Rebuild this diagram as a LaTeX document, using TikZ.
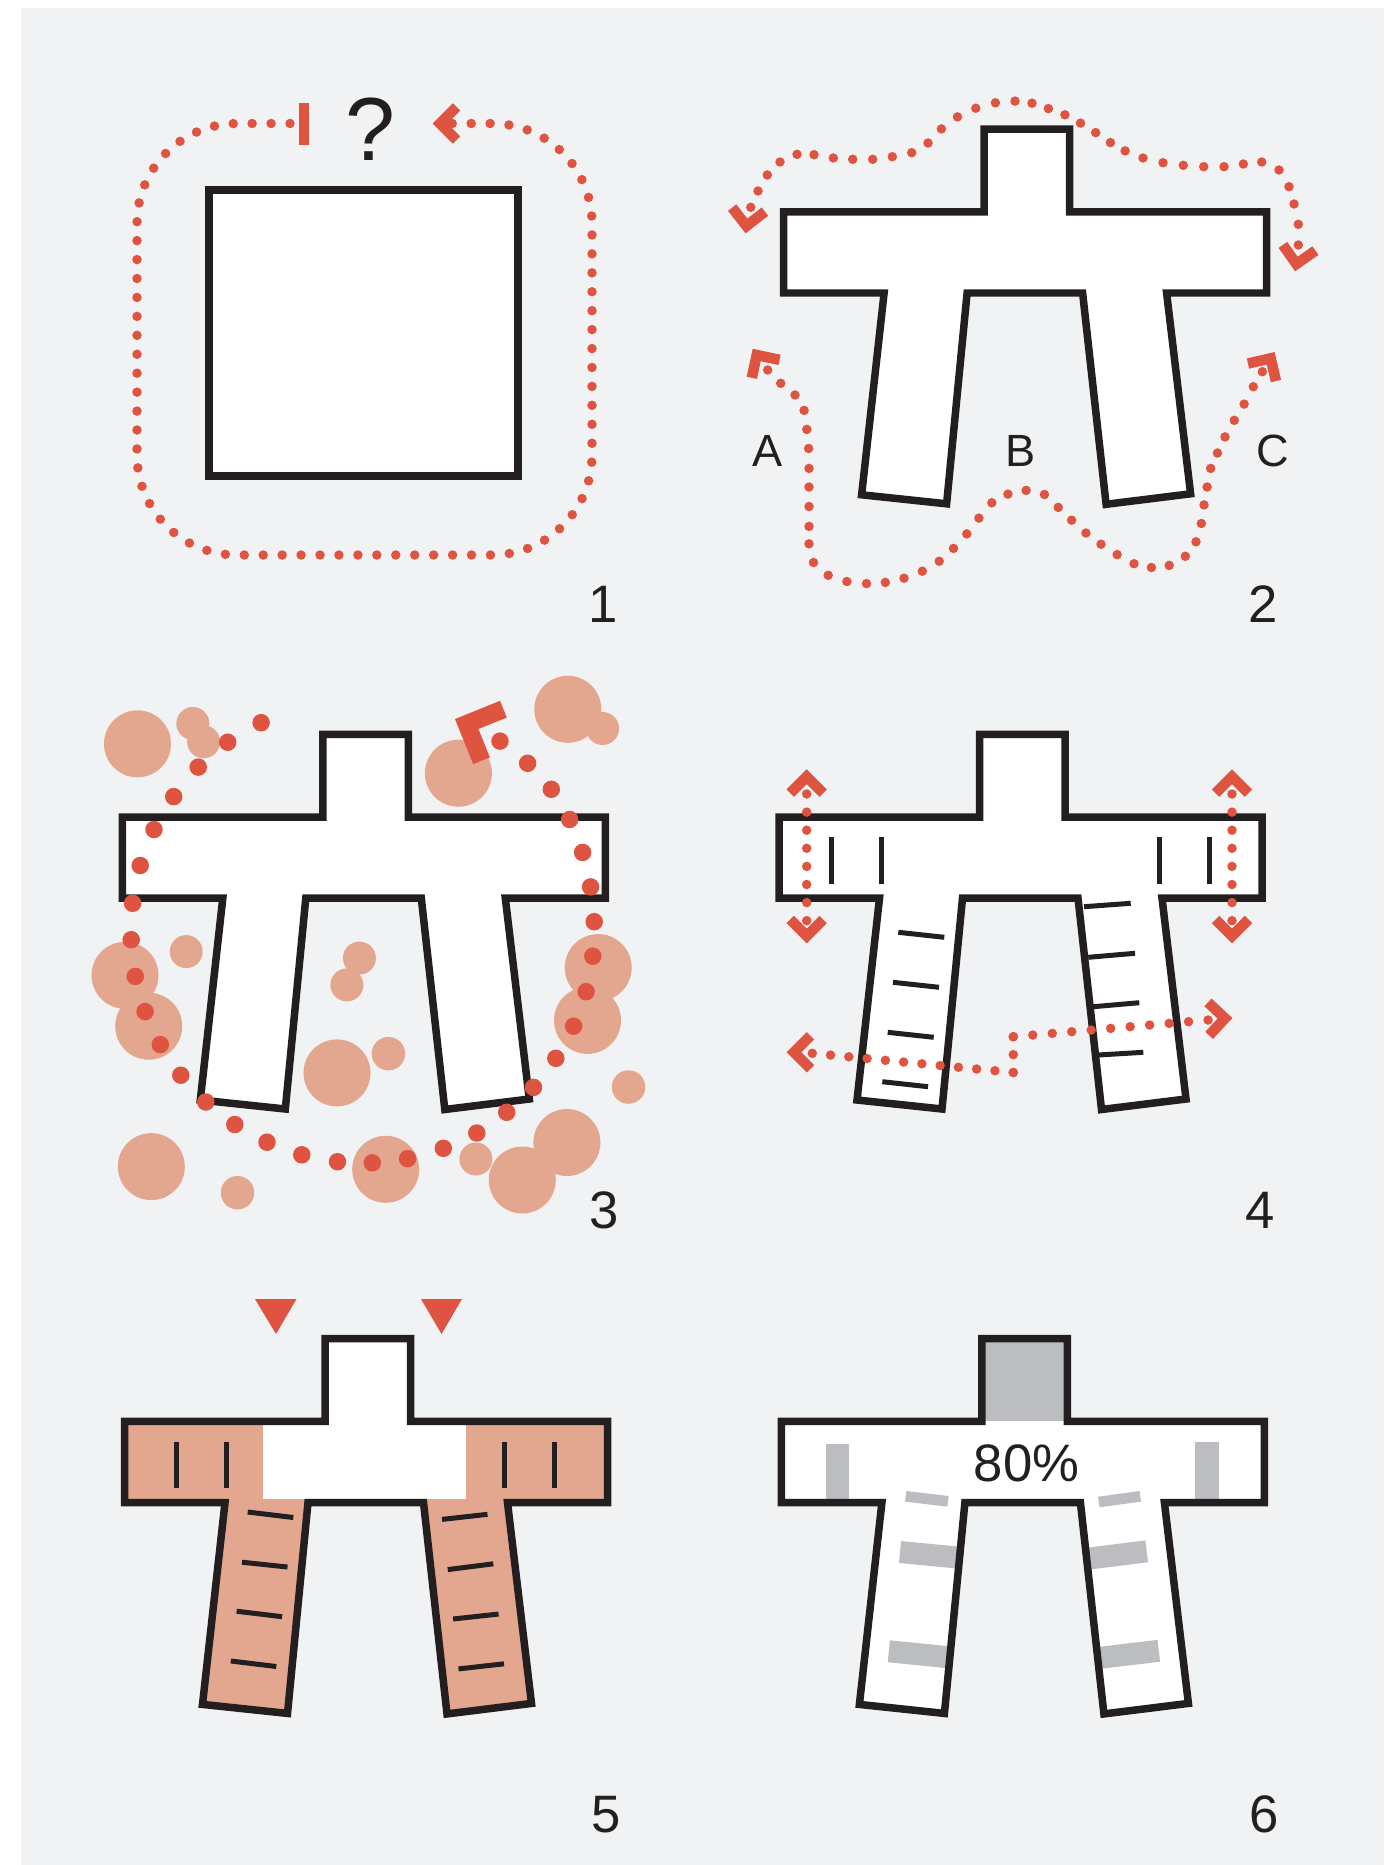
\documentclass[tikz,border=0pt]{standalone}
\usepackage{fontspec}
\setmainfont{Liberation Sans}
\definecolor{bg}{HTML}{F1F2F4}
\definecolor{accent}{HTML}{DF5341}
\definecolor{peach}{HTML}{E3A68E}
\definecolor{lgray}{HTML}{BCBDC0}
\definecolor{ink}{HTML}{231F20}
\newcommand\Tpath{(0,0) -- (200.5,0) -- (200.5,-82.7) -- (286,-82.7) -- (286,0) -- (483,0) -- (483,81.2) -- (383,81.2) -- (407,282) -- (322.5,292.5) -- (299,81.2) -- (183.5,81.2) -- (163,292) -- (78,283) -- (100.5,81.2) -- (0,81.2) -- cycle}
\tikzset{
  outline/.style={draw=ink, line width=0.15cm},
  dotline/.style={draw=accent, line width=0.19cm, line cap=round},
  chev/.pic={\draw[accent, line width=0.21cm] (-16.5,16.5) -- (0,0) -- (-16.5,-16.5);},
  bigchev/.pic={\draw[accent, line width=0.36cm] (-28,28) -- (0,0) -- (-28,-28);},
  tickmark/.style={draw=ink, line width=0.1cm},
  graybar/.style={draw=lgray, line width=0.44cm},
  num/.style={font=\fontsize{30}{36}\selectfont, text=ink, anchor=base, inner sep=0pt},
  letter/.style={font=\fontsize{25.7}{30}\selectfont, text=ink, anchor=base, inner sep=0pt},
}
\begin{document}
\begin{tikzpicture}[x=0.02cm, y=-0.02cm]
\useasboundingbox (0,0) rectangle (1389,1865);
\fill[white] (0,0) rectangle (1389,1865);
\fill[bg] (21,8) rectangle (1384,1865);

%% ---------- Panel 1 ----------
\draw[outline, fill=white] (209,190) rectangle (518,476);
\draw[dotline, dash pattern=on 0pt off 0.3788cm, rounded corners=2cm]
  (290,123.5) -- (137,123.5) -- (137,555) -- (592,555) -- (592,123.5) -- (452,123.5);
\fill[accent] (299,103) rectangle (309,145);
\pic[rotate=180] at (440,123.5) {chev};
\node[font=\fontsize{51}{51}\selectfont, text=ink, anchor=base, inner sep=0pt] (q) at (370.5,161) {?};
\node[num] (n1) at (603,622) {1};

%% ---------- Panel 2 ----------
\begin{scope}[shift={(783.6,211.8)}]
  \draw[outline, fill=white] \Tpath;
\end{scope}
\foreach \x/\y in {750.7/207.3, 758/191, 767.3/175, 780/162, 797/154.3, 814/154.7, 833.3/158, 852.7/159.3, 872.7/159.3, 892.3/156.7, 911.7/152.7, 928/143, 941.4/128.9, 957.5/116.9, 975.8/108.2, 995.4/102.8, 1015/101.1, 1032/103.2, 1048.4/108.6, 1064.9/114.8, 1080.5/123.1, 1095.7/132.6, 1110.4/142.6, 1125.1/150.9, 1143/158, 1163/162.7, 1183.3/165.3, 1203.7/166.7, 1224/166.7, 1243.3/164, 1261.7/162, 1279/170, 1289/186.7, 1294/204, 1298.3/224.3, 1298.3/245}
  \fill[accent] (\x,\y) circle[radius=0.095cm];
\foreach \x/\y in {767.7/370, 780.7/383.3, 795/395, 804.1/410.4, 806.8/429.4, 808.6/448.5, 809/468.4, 809/487, 809/506.5, 809/526.4, 809/543.8, 813.5/562.5, 828.2/575.3, 846.9/581.5, 866.5/583.6, 885.3/582.4, 904/578.2, 922.3/571.2, 939.2/561.2, 953.5/548.4, 966.8/533.9, 978.9/518.1, 991.8/502.8, 1007.9/494.1, 1026.1/490.4, 1044.4/494.5, 1058.2/507.4, 1071.6/520.2, 1085.9/533, 1101/544.2, 1117.1/554.6, 1134/563.7, 1151.4/567.5, 1169.2/565.4, 1185.3/556.3, 1196/541.8, 1201.3/523.5, 1204/504.9, 1207.1/487, 1210.7/468.4, 1217.4/453, 1225/436.9, 1234.3/420.3, 1244.1/404.1, 1253.3/386.7, 1262.3/371.7}
  \fill[accent] (\x,\y) circle[radius=0.095cm];
\pic[rotate=263] at (746.5,226) {chev};
\pic[rotate=260] at (1296.3,264) {chev};
\pic[rotate=123] at (756.7,355) {chev};
\pic[rotate=58] at (1270.7,358.3) {chev};
\node[letter] (la) at (768,466) {A};
\node[letter] (lb) at (1021,466) {B};
\node[letter] (lc) at (1272.5,466) {C};
\node[num] (n2) at (1263.5,622) {2};

%% ---------- Panel 3 ----------
\foreach \x/\y/\r in {137.5/743.8/0.67, 192.8/723.5/0.33, 203.6/741.8/0.33, 458.4/773.2/0.67, 567.8/709.3/0.67, 602.6/728.5/0.33, 186.2/951.6/0.33, 125/975.3/0.67, 148.7/1026.2/0.67, 359.4/958.1/0.33, 346.9/984.9/0.33, 598.2/967.6/0.67, 587.5/1020.4/0.67, 337/1072.9/0.67, 388.4/1053.7/0.335, 628.5/1087/0.335, 151.3/1166.6/0.67, 237.5/1192.7/0.335, 385.7/1169.3/0.67, 475.9/1159/0.33, 566.9/1142.5/0.67, 522.3/1180/0.67}
  \fill[peach] (\x,\y) circle[radius=\r cm];
\begin{scope}[shift={(122.3,817)}]
  \draw[outline, fill=white] \Tpath;
\end{scope}
\foreach \x/\y in {261.1/722.7, 227.7/742.2, 198.2/767.1, 173.7/796.6, 154/829.5, 140.2/865.5, 132.6/903.3, 131.2/939.7, 135.3/976.4, 145.1/1011.6, 160.3/1044.6, 180.8/1075.2, 205.8/1102, 234.8/1124.5, 267/1142.2, 301.8/1154.8, 337.5/1161.7, 372.3/1162.8, 407.6/1158.6, 443.3/1148.3, 476.8/1133, 506.7/1112.3, 533.5/1087.4, 555.8/1058.3, 573.6/1026.2, 586.1/991.7, 592.8/956.2, 594.2/921.7, 590.6/886.9, 582.6/852.4, 569.6/819.5, 551.3/789.3, 527.6/763.3, 500/741.1}
  \fill[accent] (\x,\y) circle[radius=0.175cm];
\pic[rotate=157] at (466.7,724) {bigchev};
\node[num] (n3) at (604,1228) {3};

%% ---------- Panel 4 ----------
\begin{scope}[shift={(779,817)}]
  \draw[outline, fill=white] \Tpath;
  \foreach \x in {52,102,380,430} \draw[tickmark] (\x,20.3) -- (\x,67);
  \draw[tickmark] (119.3,115.3) -- (165.3,120.3);
  \draw[tickmark] (114,165.3) -- (160,170.3);
  \draw[tickmark] (108.7,215.3) -- (154.7,220.3);
  \draw[tickmark] (103.3,264.7) -- (149,269.7);
  \draw[tickmark] (305,89.7) -- (351.7,86.3);
  \draw[tickmark] (309.3,140.3) -- (356,136.3);
  \draw[tickmark] (314.3,189.7) -- (360.3,185.7);
  \draw[tickmark] (319.3,238) -- (364.3,235.3);
\end{scope}
\draw[dotline, dash pattern=on 0pt off 0.362cm] (806.7,794) -- (806.7,921);
\draw[dotline, dash pattern=on 0pt off 0.362cm] (1232,794) -- (1232,921);
\pic[rotate=90] at (806.7,776.7) {chev};
\pic[rotate=270] at (806.7,936) {chev};
\pic[rotate=90] at (1232,776.7) {chev};
\pic[rotate=270] at (1232,936) {chev};
\draw[dotline, dash pattern=on 0pt off 0.367cm] (812.3,1053.3) -- (1013.3,1072.5);
\draw[dotline, dash pattern=on 0pt off 0.358cm] (1013.3,1072.5) -- (1013.3,1036.7);
\draw[dotline, dash pattern=on 0pt off 0.391cm] (1013.3,1036.7) -- (1208.3,1020);
\pic[rotate=180] at (794,1052.3) {chev};
\pic[rotate=2] at (1225,1018.3) {chev};
\node[num] (n4) at (1260.5,1228) {4};

%% ---------- Panel 5 ----------
\fill[accent] (255,1299) -- (296.5,1299) -- (276,1334) -- cycle;
\fill[accent] (421,1299) -- (462,1299) -- (441.5,1334) -- cycle;
\begin{scope}[shift={(124.5,1421.4)}]
  \fill[peach] \Tpath;
  \fill[white] (200.5,-82.7) rectangle (286,0);
  \fill[white] (138.9,-1) rectangle (341.1,78);
  \draw[outline] \Tpath;
  \foreach \x in {51.8,101.8,379.5,429.5} \draw[tickmark] (\x,20.8) -- (\x,67);
  \draw[tickmark] (123.2,90.6) -- (168.8,96.1);
  \draw[tickmark] (117.5,140.8) -- (163,145.6);
  \draw[tickmark] (112.1,189.8) -- (157.6,195.3);
  \draw[tickmark] (106.3,239.6) -- (151.8,245.1);
  \draw[tickmark] (317.5,98) -- (363,92.9);
  \draw[tickmark] (323.2,148.2) -- (368.8,142.4);
  \draw[tickmark] (328.6,197.6) -- (374.1,192.6);
  \draw[tickmark] (334,247.5) -- (379.5,242.4);
\end{scope}
\node[num] (n5) at (606,1832) {5};

%% ---------- Panel 6 ----------
\begin{scope}[shift={(781.4,1421.4)}]
  \fill[white] \Tpath;
  \fill[lgray] (200.5,-82.7) rectangle (286,0);
  \fill[lgray] (44.1,22.3) rectangle (67.8,80);
  \fill[lgray] (413.6,20.9) rectangle (437.1,80);
  \begin{scope}
    \clip \Tpath;
    \draw[lgray, line width=0.214cm] (124.3,74.9) -- (166.6,79.9);
    \draw[graybar] (118.6,130.6) -- (180,136.5);
    \draw[graybar] (107.4,229.9) -- (170,236.1);
    \draw[lgray, line width=0.214cm] (317.4,80.6) -- (358.9,74.9);
    \draw[graybar] (304,137.6) -- (365.3,129.9);
    \draw[graybar] (315,236.8) -- (377.4,229.4);
  \end{scope}
  \draw[outline] \Tpath;
\end{scope}
\node[font=\fontsize{30}{36}\selectfont, text=ink, anchor=base, inner sep=0pt] (pct) at (1026.7,1481) {80\%};
\node[num] (n6) at (1264.5,1832) {6};
\end{tikzpicture}
\end{document}
